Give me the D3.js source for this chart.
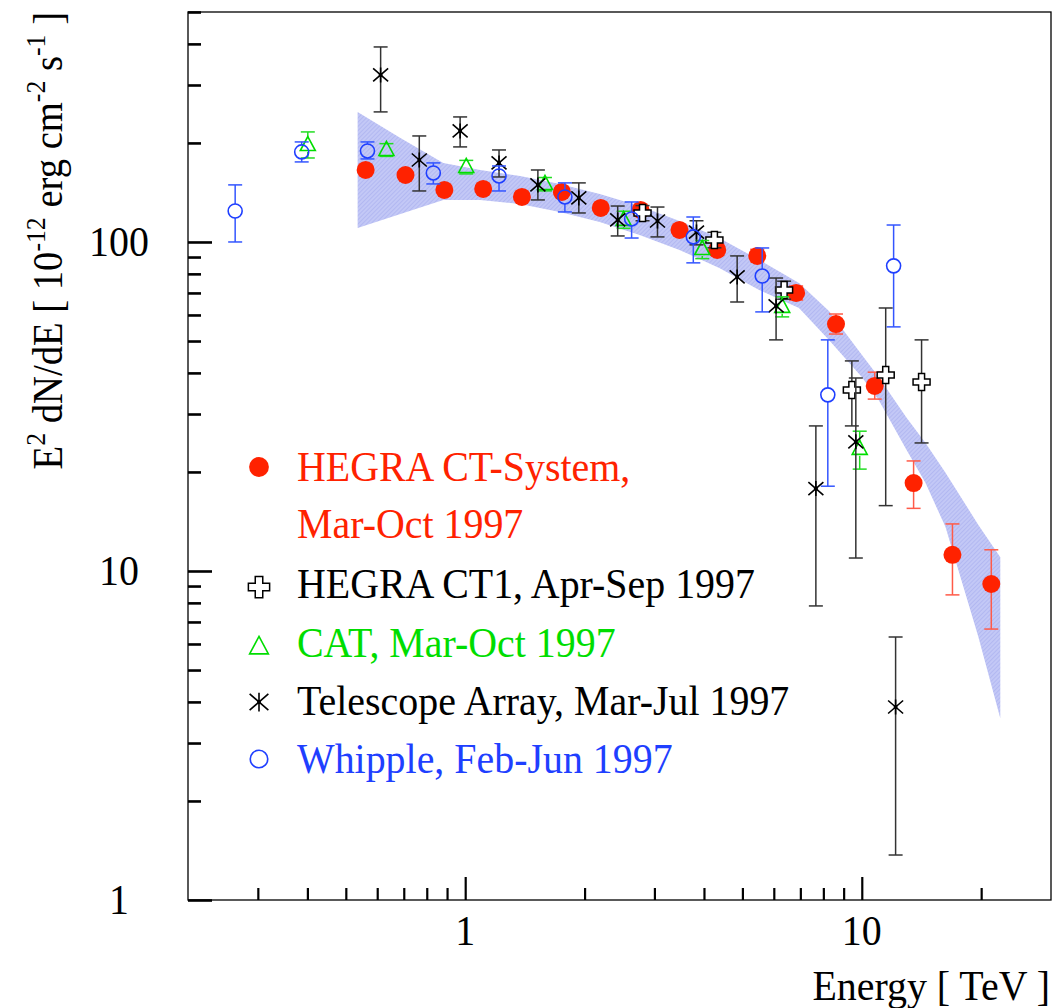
<!DOCTYPE html>
<html>
<head>
<meta charset="utf-8">
<script src="https://cdn.jsdelivr.net/npm/d3@7"></script>
<style>
  body { margin: 0; background: #fff; }
  text { font-family: "Liberation Serif", "Times New Roman", serif; }
</style>
</head>
<body>
<div id="chart"></div>
<script>
// HEGRA CT-System, Mar-Oct 1997 (energy TeV, flux, lower / upper bound)
const sysE  = [0.561, 0.707, 0.886, 1.11, 1.39, 1.753, 2.197, 2.769, 3.47, 4.32, 5.45, 6.83, 8.61, 10.78, 13.51, 16.93, 21.21];
const sysF  = [165.5, 159.8, 143.9, 144.9, 137.0, 141.9, 126.9, 125.1, 108.8, 94.6, 90.7, 70.0, 56.3, 36.5, 18.5, 11.2, 9.13];
const sysLo = [160, 155, 140, 141, 133.5, 138, 123.5, 121.5, 105.5, 91.5, 87, 66.6, 52.5, 33.3, 15.5, 8.46, 6.66];
const sysHi = [171, 164.5, 148, 149, 140.5, 146, 130.5, 129, 112, 98, 95, 73.5, 60.4, 40.2, 21.6, 13.9, 11.6];

// HEGRA CT1, Apr-Sep 1997
const ct1E  = [2.80, 4.25, 6.37, 9.44, 11.49, 14.15];
const ct1F  = [122.5, 101.4, 71.5, 35.5, 39.4, 37.5];
const ct1Lo = [116, 96, 67, 27.6, 15.8, 24.5];
const ct1Hi = [129, 107, 76, 43.5, 63.0, 50.4];

// CAT, Mar-Oct 1997
const catE  = [0.401, 0.633, 1.006, 1.589, 2.509, 3.96, 6.30, 9.88];
const catF  = [197.1, 190.4, 169.0, 150.1, 116.7, 95.2, 63.5, 23.5];
const catLo = [180, 182, 161, 143, 110, 89, 59.2, 20.4];
const catHi = [216, 199, 177, 157, 124, 101, 68.1, 26.6];

// Telescope Array, Mar-Jul 1997
const taE  = [0.612, 0.766, 0.971, 1.217, 1.525, 1.934, 2.424, 3.054, 3.83, 4.85, 6.08, 7.66, 9.66, 12.17];
const taF  = [321.8, 177.5, 217.5, 173.9, 149.1, 136.1, 116.7, 115.8, 107.2, 78.3, 63.9, 17.8, 24.7, 3.86];
const taLo = [248.5, 142.9, 194.5, 157.6, 134.2, 122.5, 104.3, 103.6, 98.0, 65.7, 50.4, 7.83, 10.95, 1.37];
const taHi = [391.5, 210.0, 239.9, 190.4, 165.5, 151.2, 128.6, 127.7, 116, 90.7, 77.7, 27.6, 38.6, 6.30];

// Whipple, Feb-Jun 1997
const whE  = [0.263, 0.387, 0.567, 0.831, 1.217, 1.784, 2.628, 3.76, 5.61, 8.21, 12.03];
const whF  = [124.2, 187.8, 189.1, 162.1, 158.7, 137.0, 117.5, 103.6, 78.8, 34.3, 84.6];
const whLo = [100, 175.1, 178.8, 150.1, 142.9, 123.4, 102.8, 86.4, 61.3, 18.1, 55.2];
const whHi = [149.1, 201.4, 201.4, 173.9, 170.2, 151.2, 132.3, 119.1, 95.9, 50.4, 112.6];

// fit uncertainty band
const bandE  = [0.5355, 0.6866, 0.8806, 1.091, 1.375, 1.732, 2.184, 2.753, 3.470, 4.373, 5.511, 6.945, 8.265, 10.0, 11.03, 12.97, 14.48, 16.26, 19.68, 22.35];
const bandHi = [248.4, 207.1, 173.9, 165.5, 158.7, 150.1, 139.9, 128.6, 115.8, 102.8, 88.2, 75.1, 61.7, 45.4, 38.9, 29.2, 24.5, 19.9, 13.8, 11.0];
const bandLo = [110.3, 121.6, 134.2, 134.2, 130.5, 123.4, 115.0, 105.0, 94.6, 83.4, 71.5, 63.0, 50.4, 38.9, 33.1, 23.3, 18.5, 13.6, 6.30, 3.57];

// ticks
const xMajor = [1, 10];
const xMinor = [0.3, 0.4, 0.5, 0.6, 0.7, 0.8, 0.9, 2, 3, 4, 5, 6, 7, 8, 9, 20];
const yMajor = [1, 10, 100];
const yMinor = [2, 3, 4, 5, 6, 7, 8, 9, 20, 30, 40, 50, 60, 70, 80, 90, 200, 300, 400, 500];

const legendLabels = ["HEGRA CT-System,", "HEGRA CT1, Apr-Sep 1997", "CAT, Mar-Oct 1997",
                      "Telescope Array, Mar-Jul 1997", "Whipple, Feb-Jun 1997"];

const W = 1053, H = 1008;
const FS = 42, SX = 0.95;   // font size, horizontal squeeze of the original lettering
const svg = d3.select("#chart").append("svg")
  .attr("width", W).attr("height", H);

const x = d3.scaleLog().domain([0.2, 30]).range([188, 1051]);
const y = d3.scaleLog().domain([1, 500]).range([900, 12]);

function label(px, py, str, anchor, color) {
  return svg.append("g").attr("transform", "translate(" + px + "," + py + ") scale(" + SX + ",1)")
    .append("text").attr("text-anchor", anchor || "start").attr("font-size", FS)
    .attr("fill", color || "#000").text(str);
}

// hatched band fill
const defs = svg.append("defs");
const pat = defs.append("pattern")
  .attr("id", "hatch").attr("patternUnits", "userSpaceOnUse")
  .attr("width", 3).attr("height", 3)
  .attr("patternTransform", "rotate(45)");
pat.append("rect").attr("width", 3).attr("height", 3).attr("fill", "#c3c8f6");
pat.append("line").attr("x1", 0).attr("y1", 0).attr("x2", 0).attr("y2", 3)
  .attr("stroke", "#a6aeef").attr("stroke-width", 1.2);

const band = bandE.map((e, i) => ({ e: e, lo: bandLo[i], hi: bandHi[i] }));
svg.append("path")
  .datum(band)
  .attr("fill", "url(#hatch)")
  .attr("d", d3.area().x(d => x(d.e)).y0(d => y(d.lo)).y1(d => y(d.hi)));

// axes (ticks pointing inward)
function tickAxis(axis, tx, ty, w) {
  const g = svg.append("g").attr("transform", "translate(" + tx + "," + ty + ")").call(axis);
  g.select(".domain").remove();
  g.selectAll(".tick line").attr("stroke", "#000").attr("stroke-width", w);
  return g;
}
tickAxis(d3.axisRight(y).tickValues(yMajor).tickSize(24).tickFormat(""), 188, 0, 2.6);
tickAxis(d3.axisRight(y).tickValues(yMinor).tickSize(13).tickFormat(""), 188, 0, 2.6);
tickAxis(d3.axisTop(x).tickValues(xMajor).tickSize(23).tickFormat(""), 0, 900, 2.2);
tickAxis(d3.axisTop(x).tickValues(xMinor).tickSize(12).tickFormat(""), 0, 900, 2.2);

svg.append("rect")
  .attr("x", 188).attr("y", 12).attr("width", 1051 - 188).attr("height", 888)
  .attr("fill", "none").attr("stroke", "#000").attr("stroke-width", 1.3);

yMajor.forEach(v => label(119, y(v) + 14, v, "middle"));
xMajor.forEach(v => label(x(v), 945, v, "middle"));
label(1050, 1000, "Energy [ TeV ]", "end");

const yTitle = svg.append("g")
  .attr("transform", "translate(62,12) rotate(-90) scale(0.92,1)")
  .append("text").attr("text-anchor", "end").attr("font-size", FS);
[["E", 0], ["2", 1], [" dN/dE [ 10", 0], ["-12", 1], [" erg cm", 0], ["-2", 1], [" s", 0], ["-1", 1], [" ]", 0]]
  .forEach((p, i, arr) => {
    const prevSup = i > 0 && arr[i - 1][1];
    yTitle.append("tspan")
      .attr("font-size", p[1] ? 28 : FS)
      .attr("dy", p[1] ? -17 : (prevSup ? 17 : 0))
      .text(p[0]);
  });

// marker shapes
const crossPath = (() => {
  const a = 3, L = 8.5;
  return "M" + [[-a,-L],[a,-L],[a,-a],[L,-a],[L,a],[a,a],[a,L],[-a,L],[-a,a],[-L,a],[-L,-a],[-a,-a]].join("L") + "Z";
})();
const triPath = "M0,-8.5L7.5,5.5L-7.5,5.5Z";
const starPath = "M0,-7.5L0,7.5M-7.5,-6.5L7.5,6.5M-7.5,6.5L7.5,-6.5";

function drawMarker(g, type, color, s) {
  s = s || 1;
  if (type === "dot") g.append("circle").attr("r", 9 * s).attr("fill", color);
  if (type === "circle") g.append("circle").attr("r", 7 * s).attr("fill", "none").attr("stroke", color).attr("stroke-width", 1.6);
  if (type === "cross") g.append("path").attr("d", crossPath).attr("transform", "scale(" + s + ")")
    .attr("fill", "#fff").attr("stroke", color).attr("stroke-width", 1.5 / s);
  if (type === "tri") g.append("path").attr("d", triPath).attr("transform", "scale(" + s + ")")
    .attr("fill", "none").attr("stroke", color).attr("stroke-width", 1.6 / s);
  if (type === "star") {
    g.append("path").attr("d", starPath).attr("transform", "scale(" + s + ")")
      .attr("stroke", color).attr("stroke-width", 1.6 / s).attr("fill", "none");
    g.append("circle").attr("r", 2).attr("fill", color);
  }
}

function series(E, F, Lo, Hi, type, color, barColor, gap) {
  const pts = E.map((e, i) => ({ e: e, f: F[i], lo: Lo[i], hi: Hi[i] }));
  const g = svg.append("g");
  const cap = 7;
  pts.forEach(d => {
    const px = x(d.e), py = y(d.f), yh = y(d.hi), yl = y(d.lo);
    const bar = g.append("g").attr("stroke", barColor).attr("stroke-width", 1.5);
    if (py - gap > yh) bar.append("line").attr("x1", px).attr("x2", px).attr("y1", yh).attr("y2", py - gap);
    if (py + gap < yl) bar.append("line").attr("x1", px).attr("x2", px).attr("y1", py + gap).attr("y2", yl);
    bar.append("line").attr("x1", px - cap).attr("x2", px + cap).attr("y1", yh).attr("y2", yh);
    bar.append("line").attr("x1", px - cap).attr("x2", px + cap).attr("y1", yl).attr("y2", yl);
    drawMarker(g.append("g").attr("transform", "translate(" + px + "," + py + ")"), type, color);
  });
}

series(sysE, sysF, sysLo, sysHi, "dot", "#ff2200", "#ff5a48", 0);
series(ct1E, ct1F, ct1Lo, ct1Hi, "cross", "#000", "#333", 0);
series(catE, catF, catLo, catHi, "tri", "#00dd00", "#22dd22", 7);
series(taE, taF, taLo, taHi, "star", "#000", "#333", 0);
series(whE, whF, whLo, whHi, "circle", "#1f3fff", "#3355ff", 7);

// legend
const legendTypes = ["dot", "cross", "tri", "star", "circle"];
const legendColors = ["#ff2200", "#000", "#00dd00", "#000", "#1f3fff"];
const legendSym = [467, 587, 647, 702, 759];
const legendBase = [481, 598, 657, 715, 773];
legendLabels.forEach((t, i) => {
  drawMarker(svg.append("g").attr("transform", "translate(259," + legendSym[i] + ")"),
    legendTypes[i], legendColors[i], i === 0 ? 1.1 : 1.25);
  label(297, legendBase[i], t, "start", legendColors[i]);
});
label(297, 538, "Mar-Oct 1997", "start", "#ff2200");
</script>
</body>
</html>
